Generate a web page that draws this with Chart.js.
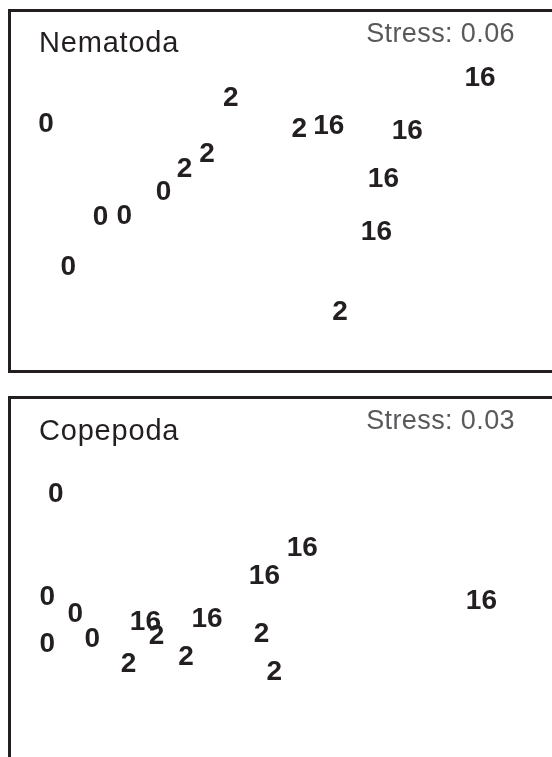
<!DOCTYPE html>
<html>
<head>
<meta charset="utf-8">
<script src="https://cdn.jsdelivr.net/npm/chart.js@4"></script>
<style>
  body { margin: 0; width: 552px; height: 757px; overflow: hidden; background: #fff; position: relative; }
  .panel { position: absolute; left: 8px; width: 600px; border: 3px solid #231f20; }
  .plot { position: absolute; left: 0; top: 0; width: 560px; height: 358px; }
  .name { position: absolute; left: 39px; font: 29px/29px "Liberation Sans", Arial, Helvetica, sans-serif; letter-spacing: 0.8px; color: #231f20; }
  .stress { position: absolute; right: 37px; font: 27px/27px "Liberation Sans", Arial, Helvetica, sans-serif; letter-spacing: 0.4px; color: #58595b; }
</style>
</head>
<body>
<div class="panel" style="top:9px;height:358px"><div class="plot"><canvas id="nem"></canvas></div></div>
<div class="panel" style="top:396px;height:400px"><div class="plot"><canvas id="cop"></canvas></div></div>
<div class="name" style="top:28px">Nematoda</div>
<div class="stress" style="top:20px">Stress: 0.06</div>
<div class="name" style="top:416px">Copepoda</div>
<div class="stress" style="top:407px">Stress: 0.03</div>
<script>
// sampling days, used as point labels
var days = ['0', '2', '16'];

// Nematoda nMDS coordinates
var nemDay0X = [-1.75, -0.91, -1.36, -1.19, -1.59];
var nemDay0Y = [0.48, 0.01, -0.17, -0.16, -0.52];
var nemDay2X = [-0.43, 0.06, -0.60, -0.76, 0.35];
var nemDay2Y = [0.66, 0.45, 0.27, 0.17, -0.83];
var nemDay16X = [1.35, 0.27, 0.83, 0.66, 0.61];
var nemDay16Y = [0.80, 0.47, 0.43, 0.10, -0.27];

// Copepoda nMDS coordinates
var copDay0X = [-1.68, -1.74, -1.54, -1.42, -1.74];
var copDay0Y = [0.60, -0.12, -0.24, -0.41, -0.45];
var copDay2X = [-0.96, -0.21, -0.75, -1.16, -0.12];
var copDay2Y = [-0.39, -0.38, -0.54, -0.59, -0.64];
var copDay16X = [0.08, -0.19, 1.36, -1.04, -0.60];
var copDay16Y = [0.22, 0.03, -0.15, -0.29, -0.27];

function pts(xs, ys) {
  var out = [];
  for (var i = 0; i < xs.length; i++) out.push({x: xs[i], y: ys[i]});
  return out;
}

// draws the day number in place of each point
var textPoints = {
  id: 'textPoints',
  afterDatasetsDraw: function (chart) {
    var ctx = chart.ctx;
    ctx.save();
    ctx.font = 'bold 28px "Liberation Sans", Arial, Helvetica, sans-serif';
    ctx.fillStyle = '#231f20';
    ctx.textAlign = 'center';
    ctx.textBaseline = 'alphabetic';
    chart.data.datasets.forEach(function (ds, i) {
      chart.getDatasetMeta(i).data.forEach(function (el) {
        ctx.fillText(ds.label, el.x, el.y + 10);
      });
    });
    ctx.restore();
  }
};

function Draw(id, groups) {
  new Chart(document.getElementById(id), {
    type: 'scatter',
    data: {
      datasets: groups.map(function (g, i) {
        return { label: days[i], data: g, pointRadius: 0 };
      })
    },
    options: {
      responsive: true,
      maintainAspectRatio: false,
      animation: false,
      layout: { padding: 0 },
      plugins: { legend: { display: false }, tooltip: { enabled: false } },
      scales: {
        x: { type: 'linear', min: -2, max: 2, display: false },
        y: { type: 'linear', min: -1.25, max: 1.25, display: false }
      }
    },
    plugins: [textPoints]
  });
}

Draw('nem', [pts(nemDay0X, nemDay0Y), pts(nemDay2X, nemDay2Y), pts(nemDay16X, nemDay16Y)]);
Draw('cop', [pts(copDay0X, copDay0Y), pts(copDay2X, copDay2Y), pts(copDay16X, copDay16Y)]);
</script>
</body>
</html>
